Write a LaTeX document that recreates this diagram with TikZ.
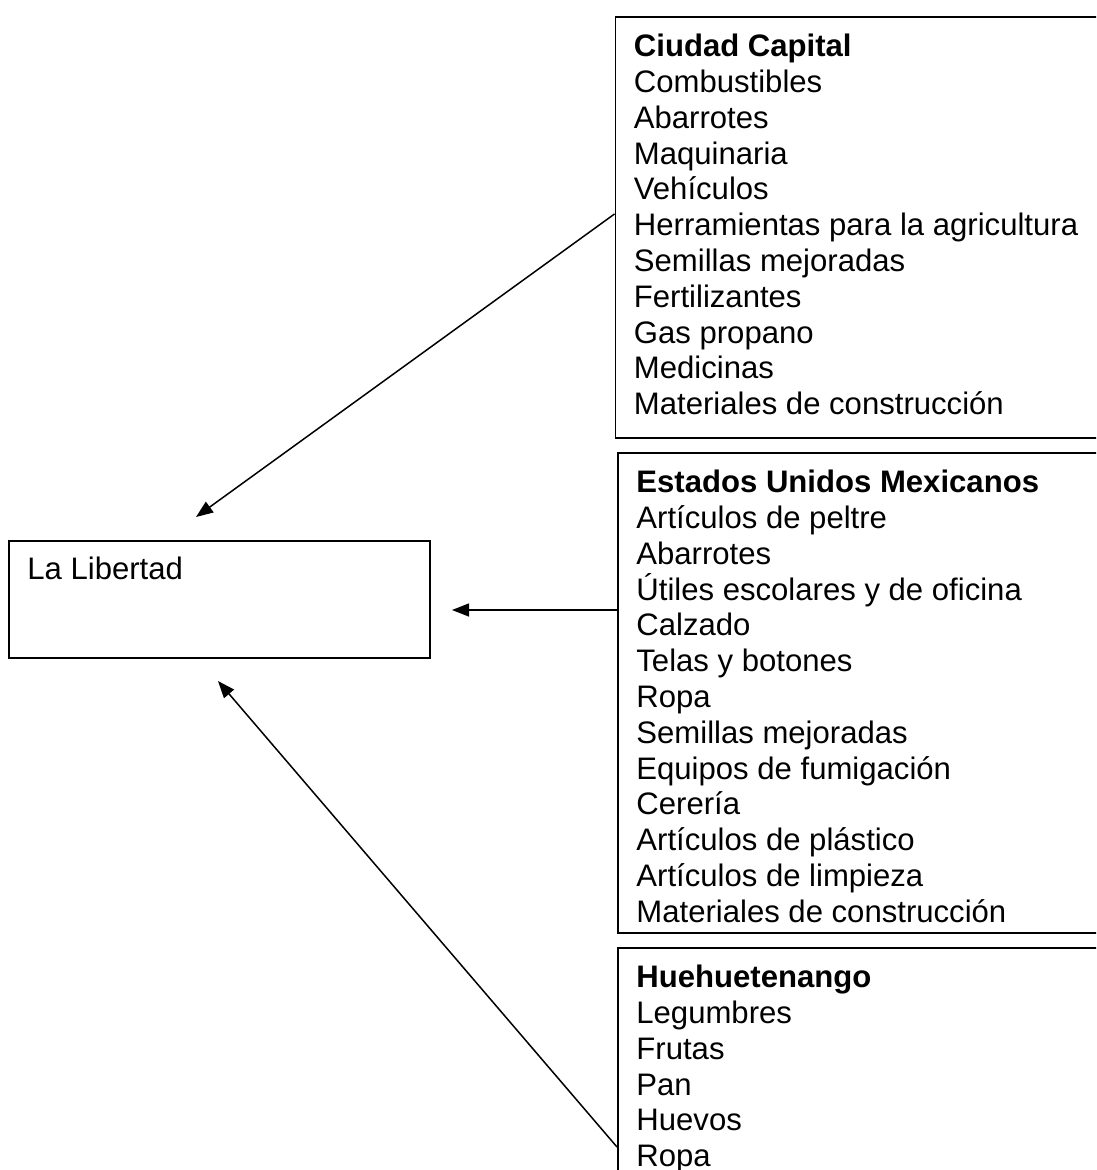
\documentclass[tikz,border=0pt]{standalone}
\usepackage{fontspec}
\setmainfont{Liberation Sans}
\usetikzlibrary{arrows.meta,positioning,calc}

\begin{document}
\begin{tikzpicture}[
  x=0.5pt,y=-0.5pt,
  box/.style={draw,line width=0.9pt,rectangle,anchor=north west,inner sep=0pt},
  txt/.style={anchor=north west,inner sep=0pt,align=left,
    font=\fontsize{15.55pt}{17.9pt}\selectfont},
  flow/.style={draw,line width=0.75pt,-{Triangle[length=8.5pt,width=6.5pt]}}]
  \clip(0,0) rectangle (1096,1170);
  % boxes
  \node[box,minimum width=247.75pt,minimum height=210.5pt](capbox) at(614.5,16){};
  \node[box,minimum width=246.5pt,minimum height=240pt](mexbox) at(617,452){};
  \node[box,minimum width=246.5pt,minimum height=116.5pt](huebox) at(617,947){};
  \node[box,minimum width=210.5pt,minimum height=58.5pt](lib) at(8,540){};
  % texts
  \node[txt](captxt) at($(capbox.north west)+(19,17.7)$){\textbf{Ciudad Capital}\\
    Combustibles\\Abarrotes\\Maquinaria\\Vehículos\\
    Herramientas para la agricultura\\Semillas mejoradas\\Fertilizantes\\
    Gas propano\\Medicinas\\Materiales de construcción};
  \node[txt](mextxt) at($(mexbox.north west)+(19,17.7)$){\textbf{Estados Unidos Mexicanos}\\
    Artículos de peltre\\Abarrotes\\Útiles escolares y de oficina\\Calzado\\
    Telas y botones\\Ropa\\Semillas mejoradas\\Equipos de fumigación\\Cerería\\
    Artículos de plástico\\Artículos de limpieza\\Materiales de construcción};
  \node[txt](huetxt) at($(huebox.north west)+(19,17.7)$){\textbf{Huehuetenango}\\
    Legumbres\\Frutas\\Pan\\Huevos\\Ropa};
  \node[txt](libtxt) at($(lib.north west)+(19,16.7)$){La Libertad};
  % arrow tips
  \coordinate(tipcap) at(196,517);
  \coordinate(tipmex) at(452,610);
  \coordinate(tiphue) at(218,681);
  \draw[flow]($(capbox.north west)+(0,198)$)--(tipcap);
  \draw[flow]($(mexbox.north west)+(0,158)$)--(tipmex);
  \draw[flow]($(huebox.north west)+(0,200)$)--(tiphue);
\end{tikzpicture}
\end{document}
